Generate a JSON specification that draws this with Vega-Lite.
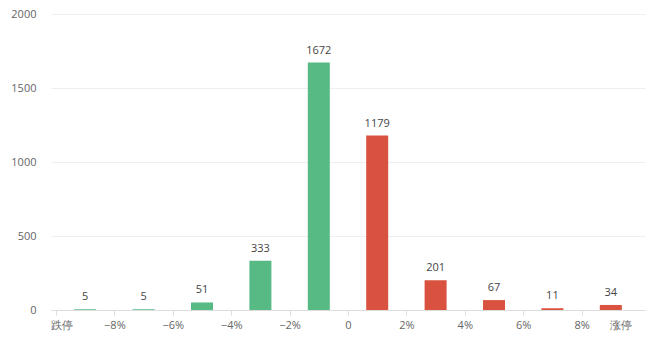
{
  "$schema": "https://vega.github.io/schema/vega-lite/v6.json",
  "width": 594,
  "height": 296,
  "autosize": {"type": "none"},
  "padding": {"left": 51, "top": 14, "right": 6, "bottom": 27},
  "background": "white",
  "config": {"view": {"stroke": null}, "font": "Open Sans"},
  "data": {
    "values": [
      {"mid": -9, "count": 5, "side": "down"},
      {"mid": -7, "count": 5, "side": "down"},
      {"mid": -5, "count": 51, "side": "down"},
      {"mid": -3, "count": 333, "side": "down"},
      {"mid": -1, "count": 1672, "side": "down"},
      {"mid": 1, "count": 1179, "side": "up"},
      {"mid": 3, "count": 201, "side": "up"},
      {"mid": 5, "count": 67, "side": "up"},
      {"mid": 7, "count": 11, "side": "up"},
      {"mid": 9, "count": 34, "side": "up"}
    ]
  },
  "encoding": {
    "x": {
      "field": "mid",
      "type": "quantitative",
      "scale": {"domain": [-10, 10], "nice": false, "zero": false},
      "axis": {
        "title": null,
        "values": [-10, -8, -6, -4, -2, 0, 2, 4, 6, 8, 10],
        "labelExpr": "datum.value == -10 ? '跌停' : datum.value == 10 ? '涨停' : datum.value == 0 ? '0' : datum.label + '%'",
        "labelOffset": {"expr": "datum.value == 10 ? -20 : (datum.value == -10 ? 5 : 0)"},
        "tickOpacity": {"expr": "datum.value == 10 ? 0 : 1"},
        "grid": false,
        "domainColor": "#dddddd",
        "tickColor": "#dddddd",
        "tickSize": 5,
        "labelColor": "#666666",
        "labelFontSize": 11,
        "labelPadding": 4,
        "labelFlush": false,
        "labelOverlap": false
      }
    },
    "y": {
      "field": "count",
      "type": "quantitative",
      "scale": {"domain": [0, 2000], "nice": false},
      "axis": {
        "title": null,
        "values": [0, 500, 1000, 1500, 2000],
        "format": "d",
        "domain": false,
        "ticks": false,
        "gridColor": "#eeeeee",
        "labelColor": "#666666",
        "labelFontSize": 11,
        "labelPadding": 15
      }
    }
  },
  "layer": [
    {
      "mark": {"type": "bar", "width": 22},
      "encoding": {
        "color": {
          "field": "side",
          "type": "nominal",
          "scale": {"domain": ["down", "up"], "range": ["#57b984", "#d8523f"]},
          "legend": null
        }
      }
    },
    {
      "mark": {"type": "text", "baseline": "bottom", "dy": -7, "fontSize": 11, "color": "#444444"},
      "encoding": {"text": {"field": "count", "type": "quantitative"}}
    }
  ]
}
